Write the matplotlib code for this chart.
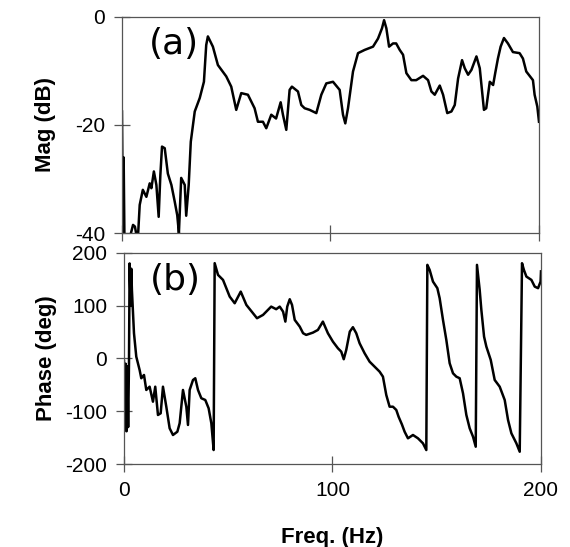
import numpy as np
import matplotlib
matplotlib.use('Agg')
import matplotlib.pyplot as plt

plt.rcParams['font.family'] = ['Liberation Sans', 'DejaVu Sans']
plt.rcParams['axes.unicode_minus'] = False

# magnitude (dB)
mag_f = [0, 0.5, 0.8, 1.2, 3, 5.3, 6.2, 7, 7.7, 8.5, 10, 11.7, 13.3, 14.1, 15.3,
         16.5, 17.6, 18.4, 19.2, 20.5, 22, 23.7, 25.3, 26.5, 27.3, 28.4, 30.1,
         30.8, 32, 33, 34.9, 37.3, 39.3, 40.4, 41.2, 43.6, 46, 50, 52.4, 54.8,
         57.2, 60.4, 63.6, 65.2, 67.6, 69.2, 71.6, 73.9, 76.1, 77.2, 78.8, 80.4,
         81.5, 84.4, 86, 87.6, 90, 93.2, 95.6, 98, 101.2, 104.4, 106, 107.1,
         108.4, 110.8, 113.2, 116.4, 120.4, 122.8, 124.7, 125.7, 126.8, 128.1,
         130, 131.5, 133.2, 134.8, 136.4, 138.8, 141.1, 144.4, 146.8, 148.4,
         150, 152.4, 154, 156, 158, 159.6, 161.2, 163.1, 164.4, 166, 167.6, 170,
         171.6, 172.4, 173.6, 174.7, 176.4, 178, 179, 180.3, 181.6, 183.2, 185.1,
         187.5, 190.7, 192.3, 193.9, 197.1, 197.9, 199.2, 200]
mag_db = [-17.5, -42, -26, -42, -42, -38.5, -38.8, -40.5, -40.5, -34.8, -32, -33.3,
          -30.8, -31.7, -28.6, -31.1, -37, -29.3, -24, -24.3, -29, -31.1, -34.2,
          -36.7, -40, -29.8, -31.1, -36.8, -31.1, -23.1, -17.5, -15, -12, -5.2,
          -3.6, -5.5, -8.9, -11, -12.9, -17.2, -14.1, -14.4, -16.9, -19.4, -19.4,
          -20.6, -18.1, -18.8, -15.8, -18.1, -20.9, -13.5, -12.9, -13.8, -16.3,
          -16.9, -17.2, -17.8, -14.4, -12.3, -12, -13.5, -18.1, -19.7, -16.9,
          -10.1, -6.7, -6.1, -5.5, -4, -2.1, -0.6, -2.1, -5.5, -4.9, -4.9, -6.1,
          -7, -10.4, -11.7, -11.7, -10.9, -11.7, -13.8, -14.4, -12.7, -14.4,
          -17.8, -17.5, -16.3, -11.4, -8, -9.5, -10.7, -9.8, -7.3, -9.5, -12.6,
          -17.2, -16.9, -12, -12.6, -10.4, -7.7, -5.5, -3.9, -4.9, -6.5, -6.7,
          -7.7, -10.1, -11.7, -14.4, -16.6, -19.4]

# phase (deg)
ph_f = [0, 0.4, 0.8, 1.2, 1.6, 2.0, 2.4, 2.7, 3.2, 3.5, 3.8, 4.8, 5.9, 7.5, 8.3,
        9.6, 10.7, 12.3, 13.9, 15, 16.3, 17.6, 18.7, 20.3, 21.9, 23.5, 25.6,
        26.7, 28.3, 29.9, 30.7, 31.5, 33.1, 34.2, 35.5, 37.1, 39, 40.6, 41.9, 43,
        43.5, 45.1, 47.5, 50.7, 53.1, 56, 58.7, 61.9, 63.8, 66.7, 70.6, 73, 74.7,
        76.3, 77.4, 78.3, 79.5, 80.6, 81.9, 84.3, 85.9, 87.4, 90.6, 93, 95.4,
        97.8, 100.2, 102.6, 104.2, 105.4, 106.6, 108.3, 109.8, 111.4, 113, 115.4,
        117.8, 120.2, 122.6, 124.2, 125.8, 127.4, 129, 130.6, 131.7, 133.3, 134.6,
        136.2, 138.6, 141, 143.4, 145, 145.5, 146.6, 148.2, 150.3, 151.4, 153,
        154.6, 156.2, 157.8, 159.4, 161, 162.6, 164.2, 165.8, 167.4, 168.7, 169.3,
        170.6, 171.4, 172.7, 173.8, 175.9, 177.8, 180.2, 182.6, 184.2, 185.8,
        188.2, 189.8, 190.9, 191.8, 193, 195.4, 197, 198.6, 199.8, 200]
ph_deg = [-5, -135, -10, -138, -15, -130, -10, 180, 100, 170, 130, 47.8, 3.4, -21.8,
          -37.5, -31.3, -59.7, -53.5, -81.9, -53.5, -107.1, -103.9, -53.5, -91.4,
          -132.3, -145, -138.8, -122.8, -59.7, -91.4, -126, -59.7, -40.8, -37.5,
          -59.7, -75.4, -78.7, -94.4, -122.8, -173.5, 180.5, 158.3, 148.8, 117.2,
          104.6, 126.6, 101.4, 85.7, 76.2, 82.5, 98.2, 93.3, 98.2, 88.7, 69.8, 98.2,
          112.2, 101.4, 73, 60.3, 47.8, 44.6, 48.9, 54, 69.8, 47.8, 31.9, 19.3,
          12.9, -1.5, 16.1, 50.8, 59.2, 47.8, 28.8, 9.9, -6.1, -15.5, -25, -34.5,
          -69.2, -91.4, -91.4, -97.6, -110.3, -125, -138.8, -151.3, -145, -151.3,
          -160.8, -173.5, 177.3, 167.8, 145.6, 133.1, 114.1, 73, 35.1, -9.1, -28.1,
          -34.5, -37.5, -66, -107, -132.3, -148.2, -167.2, 177.3, 129.9, 92, 41.3,
          22.4, -2.8, -40.8, -53.5, -78.7, -116.6, -141.8, -160.8, -176.7, 180.4,
          167.8, 155.1, 148.8, 136.1, 133.1, 145.6, 165]

fig = plt.figure(figsize=(5.7, 5.47), dpi=100)
ax1 = fig.add_axes([0.214, 0.574, 0.7316, 0.395])
ax2 = fig.add_axes([0.2175, 0.1517, 0.7316, 0.386])

sc = '#555555'
for ax in (ax1, ax2):
    for s in ax.spines.values():
        s.set_color(sc)
        s.set_linewidth(0.9)
    ax.tick_params(direction='inout', length=12, width=0.9, color=sc,
                   labelsize=15, pad=6, top=False, right=False)
    ax.set_xlim(0, 200)
    ax.set_xticks([0, 100, 200])

ax1.plot(mag_f, mag_db, color='black', lw=1.8)
ax1.set_ylim(-40, 0)
ax1.set_yticks([-40, -20, 0])
ax1.set_xticklabels([])
ax1.set_ylabel('Mag (dB)', fontsize=16, fontweight='bold', labelpad=14)
ax1.text(13, -5, '(a)', fontsize=26, va='center', ha='left', family='DejaVu Sans')

ax2.plot(ph_f, ph_deg, color='black', lw=1.8)
ax2.set_ylim(-200, 200)
ax2.set_yticks([-200, -100, 0, 100, 200])
ax2.set_ylabel('Phase (deg)', fontsize=16, fontweight='bold', labelpad=6)
ax2.set_xlabel('Freq. (Hz)', fontsize=16, fontweight='bold', labelpad=20)
ax2.text(12.5, 149, '(b)', fontsize=26, va='center', ha='left', family='DejaVu Sans')

fig.savefig('out.png', dpi=100)
plt.close(fig)
